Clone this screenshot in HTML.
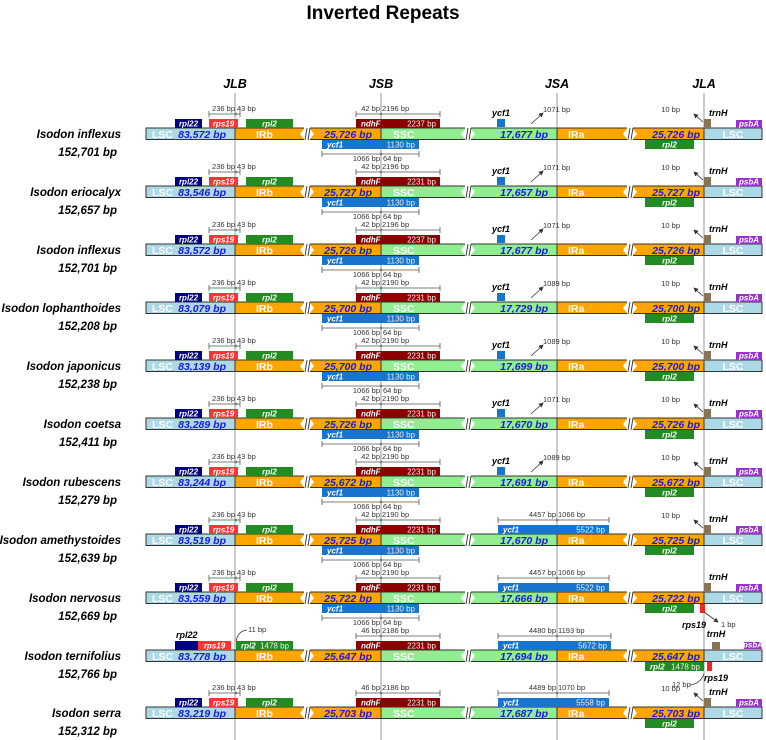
<!DOCTYPE html>
<html><head><meta charset="utf-8"><style>
html,body{margin:0;padding:0;background:#fff;}
svg{display:block;font-family:"Liberation Sans",Arial,sans-serif;}
</style></head><body>
<svg id="c" width="766" height="740" viewBox="0 0 766 740">
<defs><marker id="ah" markerWidth="6" markerHeight="6" refX="5" refY="3" orient="auto"><path d="M0,0 L6,3 L0,6 z" fill="#333"/></marker></defs>
<text x="383" y="19" text-anchor="middle" font-size="19" font-weight="bold">Inverted Repeats</text>
</svg>
<script>
const names=["Isodon inflexus","Isodon eriocalyx","Isodon inflexus","Isodon lophanthoides","Isodon japonicus","Isodon coetsa","Isodon rubescens","Isodon amethystoides","Isodon nervosus","Isodon ternifolius","Isodon serra"];
const sizes=["152,701","152,657","152,701","152,208","152,238","152,411","152,279","152,639","152,669","152,766","152,312"];
const lsc=["83,572","83,546","83,572","83,079","83,139","83,289","83,244","83,519","83,559","83,778","83,219"];
const ir=["25,726","25,727","25,726","25,700","25,700","25,726","25,672","25,725","25,722","25,647","25,703"];
const ssc=["17,677","17,657","17,677","17,729","17,699","17,670","17,691","17,670","17,666","17,694","17,687"];
const ndhL=["42","42","42","42","42","42","42","42","42","46","46"];
const ndhR=["2196","2196","2196","2190","2190","2190","2190","2190","2190","2186","2186"];
const ndhLen=["2237","2231","2237","2231","2231","2231","2231","2231","2231","2231","2231"];
const ycfArrow=["1071","1071","1071","1089","1089","1071","1089","","","",""];
const ycfBigL=["","","","","","","","4457","4457","4480","4489"];
const ycfBigR=["","","","","","","","1066","1066","1193","1070"];
const ycfBigLen=["","","","","","","","5522","5522","5672","5558"];
const rowY=[134,192,250,308,366,424,482,540,598,656,713];

const svg=document.getElementById('c');
const NS="http://www.w3.org/2000/svg";
function mk(tag,attrs,txt){const e=document.createElementNS(NS,tag);for(const k in attrs)e.setAttribute(k,attrs[k]);if(txt!==undefined)e.textContent=txt;svg.appendChild(e);return e;}
const X={l0:146,jlb:235,b1:307,jsb:381,b2:468,jsa:557,b3:630,jla:704,r:762};

[["JLB",X.jlb],["JSB",X.jsb],["JSA",X.jsa],["JLA",X.jla]].forEach(([t,x])=>{
  const l=mk('line',{x1:x,y1:93,x2:x,y2:740,stroke:'#aaa','stroke-width':1.2});
  
  
  const h=mk('text',{x:x,y:88,'text-anchor':'middle','font-size':12.5,'font-weight':'bold','font-style':'italic'},t);
  
  
});

function seg(x1,x2,y,fill,nm){const r=mk('rect',{x:x1,y:y-6,width:x2-x1,height:11.5,fill:fill,stroke:'#333','stroke-width':1});return r;}
function brk(x,y){
  mk('rect',{x:x-3,y:y-7,width:6,height:13.5,fill:'#fff'});
  mk('path',{d:`M${x-3},${y-5} L${x-7},${y} L${x-3},${y+5} Z M${x+3},${y-5} L${x+7},${y} L${x+3},${y+5} Z`,fill:'#fff'});
  mk('line',{x1:x-2,y1:y+6,x2:x,y2:y-6,stroke:'#333','stroke-width':0.9});
  mk('line',{x1:x+1,y1:y+6,x2:x+3,y2:y-6,stroke:'#333','stroke-width':0.9});
}
function gene(x,y,w,h,fill,label,len,nm,lc){
  const r=mk('rect',{x:x,y:y,width:w,height:h,fill:fill});
  
  if(label)mk('text',{x:x+(len?5:w/2),y:y+h-1.5,'font-size':8,'font-style':'italic','font-weight':'bold',fill:lc||'#fff','text-anchor':len?'start':'middle'},label);
  if(len)mk('text',{x:x+w-4,y:y+h-1.5,'font-size':8,fill:'#eee','text-anchor':'end'},len+' bp');
}
function ruler(x1,x2,xm,y,l,r){
  mk('line',{x1:x1,y1:y,x2:x2,y2:y,stroke:'#555','stroke-width':0.8});
  mk('line',{x1:x1,y1:y-3,x2:x1,y2:y+3,stroke:'#555','stroke-width':0.8});
  mk('line',{x1:x2,y1:y-3,x2:x2,y2:y+3,stroke:'#555','stroke-width':0.8});
  mk('circle',{cx:xm,cy:y,r:1.3,fill:'#777'});
  if(l)mk('text',{x:xm-1,y:y-3,'font-size':7.5,'text-anchor':'end',fill:'#333'},l+' bp');
  if(r)mk('text',{x:xm+1,y:y-3,'font-size':7.5,fill:'#333'},r+' bp');
}
function bt(x,y,t,c,anchor,it){return mk('text',{x:x,y:y+3.8,'font-size':10.5,'font-weight':'bold','font-style':it?'italic':'normal',fill:c,'text-anchor':anchor||'start'},t);}

for(let i=0;i<names.length;i++){
  const y=rowY[i];
  const n=mk('text',{x:121,y:y+4,'text-anchor':'end','font-size':11.5,'font-weight':'bold','font-style':'italic'},names[i]);
  
  const s=mk('text',{x:117,y:y+22,'text-anchor':'end','font-size':11.5,'font-weight':'bold','font-style':'italic'},sizes[i]+' bp');
  
  seg(X.l0,X.jlb,y,'#add8e6','lsc-segment');
  seg(X.jlb,X.jsb,y,'#ffa500','irb-segment');
  seg(X.jsb,X.jsa,y,'#90ee90','ssc-segment');
  seg(X.jsa,X.jla,y,'#ffa500','ira-segment');
  seg(X.jla,X.r,y,'#add8e6','lsc-segment-right');
  brk(X.b1,y);brk(X.b2,y);brk(X.b3,y);
  bt(152,y,'LSC','#fff');bt(256,y,'IRb','#fff');bt(393,y,'SSC','#fff');bt(568,y,'IRa','#fff');bt(733,y,'LSC','#fff','middle');
  bt(226,y,lsc[i]+' bp','#1a1adb','end',1);
  bt(372,y,ir[i]+' bp','#1a1adb','end',1);
  bt(548,y,ssc[i]+' bp','#1a1adb','end',1);
  bt(700,y,ir[i]+' bp','#1a1adb','end',1);
  const top=y-15;
  if(i===9){
    gene(175,top,27,9,'#000080','','', 'rpl22-gene');
    mk('text',{x:176,y:top-3,'font-size':9,'font-weight':'bold','font-style':'italic'},'rpl22');
    gene(198,top,33,9,'#ff3333','rps19','','rps19-gene');
    gene(236,top,57,9,'#228b22','rpl2','1478','rpl2-gene');
    mk('path',{d:`M236,${top} Q238,${top-10} 247,${top-11}`,fill:'none',stroke:'#333','stroke-width':0.8});
    mk('text',{x:248,y:top-9,'font-size':7.5,fill:'#333'},'11 bp');
  } else {
    gene(175,top,27,9,'#000080','rpl22','','rpl22-gene');
    gene(209,top,29,9,'#ff3333','rps19','','rps19-gene');
    gene(246,top,47,9,'#228b22','rpl2','','rpl2-gene');
    ruler(209,240,236,y-20,'236','43');
  }
  gene(356,top,84,9,'#8b0000','ndhF',ndhLen[i],'ndhf-gene');
  ruler(356,440,381,y-20,ndhL[i],ndhR[i]);
  if(i!==9&&i!==10){
    gene(322,y+6,97,9,'#1874cd','ycf1','1130','ycf1-gene-jsb');
    ruler(322,419,381,y+20,'','');
    mk('text',{x:380,y:y+27,'font-size':7.5,'text-anchor':'end',fill:'#333'},'1066 bp');
    mk('text',{x:383,y:y+27,'font-size':7.5,fill:'#333'},'64 bp');
  }
  if(ycfArrow[i]){
    gene(497,top,8,8,'#1874cd','','','ycf1-fragment');
    mk('text',{x:501,y:top-3,'font-size':9,'font-weight':'bold','font-style':'italic','text-anchor':'middle'},'ycf1');
    mk('line',{x1:531,y1:y-10,x2:543,y2:y-21,stroke:'#333','stroke-width':0.8,'marker-end':'url(#ah)'});
    mk('text',{x:543,y:y-22,'font-size':7.5,fill:'#333'},ycfArrow[i]+' bp');
  } else {
    const w2=i===9?113:111;
    gene(498,top,w2,9,'#1874cd','ycf1',ycfBigLen[i],'ycf1-gene-jsa');
    ruler(498,498+w2,557,y-20,ycfBigL[i],ycfBigR[i]);
  }
  if(i===9){
    gene(712,top+1,8,8,'#8b7355','','','trnh-gene');
    mk('text',{x:716,y:top-4,'font-size':9,'font-weight':'bold','font-style':'italic','text-anchor':'middle'},'trnH');
    gene(744,top+1,18,7,'#9932cc','psbA','','psba-gene');
    gene(645,y+6,59,9,'#228b22','rpl2','1478','rpl2-gene-ira');
    gene(707,y+6,5,9,'#ff2222','','','rps19-fragment');
    mk('text',{x:716,y:y+25,'font-size':9,'font-weight':'bold','font-style':'italic','text-anchor':'middle'},'rps19');
    mk('text',{x:672,y:y+31,'font-size':7.5,fill:'#333'},'12 bp');
    mk('path',{d:`M690,${y+29} Q700,${y+28} 704,${y+18}`,fill:'none',stroke:'#333','stroke-width':0.8});
  } else {
    gene(704,top,7,9,'#8b7355','','','trnh-gene');
    mk('text',{x:709,y:top-3,'font-size':9,'font-weight':'bold','font-style':'italic'},'trnH');
    gene(736,top+1,26,8,'#9932cc','psbA','','psba-gene');
    gene(645,y+6,49,9,'#228b22','rpl2','','rpl2-gene-ira');
    if(i!==8){
      mk('text',{x:680,y:y-22,'font-size':7.5,'text-anchor':'end',fill:'#333'},'10 bp');
      mk('line',{x1:703,y1:y-12,x2:694,y2:y-20,stroke:'#333','stroke-width':0.8,'marker-end':'url(#ah)'});
    }
    if(i===8){
      gene(700,y+6,5,9,'#ff2222','','','rps19-fragment');
      mk('text',{x:706,y:y+30,'font-size':9,'font-weight':'bold','font-style':'italic','text-anchor':'end'},'rps19');
      mk('line',{x1:704,y1:y+14,x2:718,y2:y+24,stroke:'#333','stroke-width':0.8,'marker-end':'url(#ah)'});
      mk('text',{x:721,y:y+29,'font-size':7.5,fill:'#333'},'1 bp');
    }
  }
}
</script>
</body></html>
